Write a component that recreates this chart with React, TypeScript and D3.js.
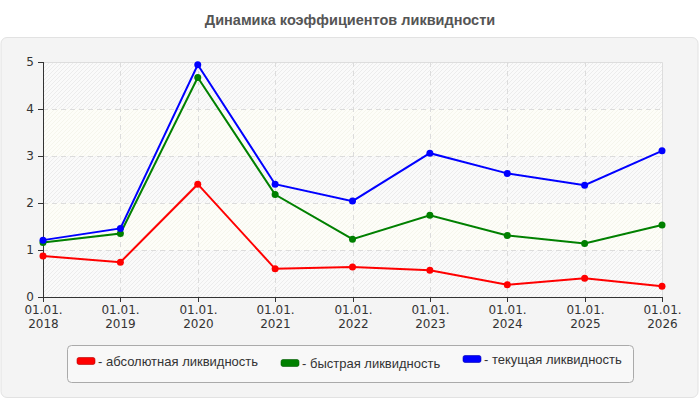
import React from "react";
import * as d3 from "d3";

const W = 700;
const H = 400;

const years = ["2018", "2019", "2020", "2021", "2022", "2023", "2024", "2025", "2026"];
const yTicks = [0, 1, 2, 3, 4, 5];

const absoluteLiq = [0.87, 0.74, 2.4, 0.6, 0.64, 0.57, 0.26, 0.4, 0.23];
const quickLiq = [1.16, 1.35, 4.67, 2.18, 1.23, 1.74, 1.31, 1.14, 1.53];
const currentLiq = [1.21, 1.46, 4.94, 2.4, 2.04, 3.06, 2.63, 2.38, 3.11];

const seriesNames = ["абсолютная ликвидность", "быстрая ликвидность", "текущая ликвидность"];
const seriesColors = ["#ff0000", "#008000", "#0000ff"];

const margin = { top: 62, right: 38, bottom: 103, left: 43 };

const App = () => {
  React.useEffect(() => {
    document.body.style.margin = "0";
  }, []);

  const x = d3
    .scalePoint<string>()
    .domain(years)
    .range([margin.left, W - margin.right]);
  const y = d3
    .scaleLinear()
    .domain([0, 5])
    .range([H - margin.bottom, margin.top]);

  const line = d3
    .line<number>()
    .x((_, i) => x(years[i]) as number)
    .y((d) => y(d));

  const series = [absoluteLiq, quickLiq, currentLiq];
  const x0 = margin.left;
  const x1 = W - margin.right;
  const tickFont = "DejaVu Sans, sans-serif";

  // legend item offsets (left x, vertical centre) — the original is a bit uneven
  const legendItems = [
    { lx: 77, cy: 361 },
    { lx: 281, cy: 363 },
    { lx: 463, cy: 359 },
  ];

  return (
    <svg width={W} height={H} style={{ display: "block" }}>
      <defs>
        <pattern id="hatchGray" patternUnits="userSpaceOnUse" width={4} height={4}>
          <rect width={4} height={4} fill="#fafafa" />
          <path d="M-1,1 l2,-2 M0,4 l4,-4 M3,5 l2,-2" stroke="#ececec" strokeWidth={1} />
        </pattern>
        <pattern id="hatchYellow" patternUnits="userSpaceOnUse" width={4} height={4}>
          <rect width={4} height={4} fill="#fdfdf8" />
          <path d="M-1,1 l2,-2 M0,4 l4,-4 M3,5 l2,-2" stroke="#f5f5ec" strokeWidth={1} />
        </pattern>
      </defs>

      <rect x={0} y={0} width={W} height={H} fill="#ffffff" />
      <text
        x={W / 2}
        y={25}
        textAnchor="middle"
        fontFamily="Liberation Sans, Arial, sans-serif"
        fontWeight="bold"
        fontSize={14.5}
        fill="#555555"
      >
        Динамика коэффициентов ликвидности
      </text>

      <rect x={1} y={37.5} width={697} height={360} rx={6} fill="#f4f4f4" stroke="#e2e2e2" />

      {/* alternating bands */}
      {yTicks.slice(0, -1).map((t) => (
        <rect
          key={"band" + t}
          x={x0}
          y={y(t + 1)}
          width={x1 - x0}
          height={y(t) - y(t + 1)}
          fill={t % 2 === 0 ? "url(#hatchGray)" : "url(#hatchYellow)"}
        />
      ))}

      {/* plot border */}
      <path
        d={`M${x0},${y(5) + 0.5}H${x1 + 0.5}V${y(0)}`}
        fill="none"
        stroke="#dddddd"
      />

      {/* grid */}
      {yTicks.slice(1, -1).map((t) => (
        <line
          key={"gy" + t}
          x1={x0}
          x2={x1}
          y1={Math.round(y(t)) + 0.5}
          y2={Math.round(y(t)) + 0.5}
          stroke="#dcdcdc"
          strokeDasharray="5,4"
        />
      ))}
      {years.slice(1, -1).map((yr) => (
        <line
          key={"gx" + yr}
          x1={Math.round(x(yr) as number) + 0.5}
          x2={Math.round(x(yr) as number) + 0.5}
          y1={y(5)}
          y2={y(0)}
          stroke="#dcdcdc"
          strokeDasharray="5,4"
        />
      ))}

      {/* axes */}
      <line x1={x0 + 0.5} x2={x0 + 0.5} y1={y(5)} y2={y(0) + 5} stroke="#333" />
      <line x1={x0 - 5} x2={x1 + 0.5} y1={y(0) + 0.5} y2={y(0) + 0.5} stroke="#333" />
      {yTicks.map((t) => (
        <g key={"yt" + t}>
          <line
            x1={x0 - 5}
            x2={x0}
            y1={Math.round(y(t)) + 0.5}
            y2={Math.round(y(t)) + 0.5}
            stroke="#333"
          />
          <text
            x={x0 - 9}
            y={y(t) + 4}
            textAnchor="end"
            fontFamily={tickFont}
            fontSize={12}
            fill="#333"
          >
            {t}
          </text>
        </g>
      ))}
      {years.map((yr) => {
        const px = Math.round(x(yr) as number) + 0.5;
        return (
          <g key={"xt" + yr}>
            <line x1={px} x2={px} y1={y(0)} y2={y(0) + 5} stroke="#333" />
            <text
              x={px}
              textAnchor="middle"
              fontFamily={tickFont}
              fontSize={12}
              fill="#333"
            >
              <tspan x={px} y={y(0) + 17}>
                01.01.
              </tspan>
              <tspan x={px} y={y(0) + 31}>
                {yr}
              </tspan>
            </text>
          </g>
        );
      })}

      {/* series */}
      {series.map((vals, si) => (
        <g key={"s" + si}>
          <path
            d={line(vals) || ""}
            fill="none"
            stroke={seriesColors[si]}
            strokeWidth={2}
          />
          {vals.map((v, i) => (
            <circle
              key={i}
              cx={x(years[i]) as number}
              cy={y(v)}
              r={3.5}
              fill={seriesColors[si]}
            />
          ))}
        </g>
      ))}

      {/* legend */}
      <rect x={67.5} y={345.5} width={566} height={37} rx={4} fill="#f8f8f8" stroke="#aaaaaa" />
      {seriesNames.map((name, i) => {
        const it = legendItems[i];
        return (
          <g key={"lg" + i}>
            <rect
              x={it.lx}
              y={it.cy - 3.5}
              width={18}
              height={7}
              rx={2}
              fill={seriesColors[i]}
              stroke={d3.color(seriesColors[i])!.darker(1).toString()}
              strokeWidth={0.6}
            />
            <text
              x={it.lx + 21}
              y={it.cy + 4.5}
              fontFamily="Liberation Sans, Arial, sans-serif"
              fontSize={13}
              fill="#333"
            >
              - {name}
            </text>
          </g>
        );
      })}
    </svg>
  );
};

export default App;
